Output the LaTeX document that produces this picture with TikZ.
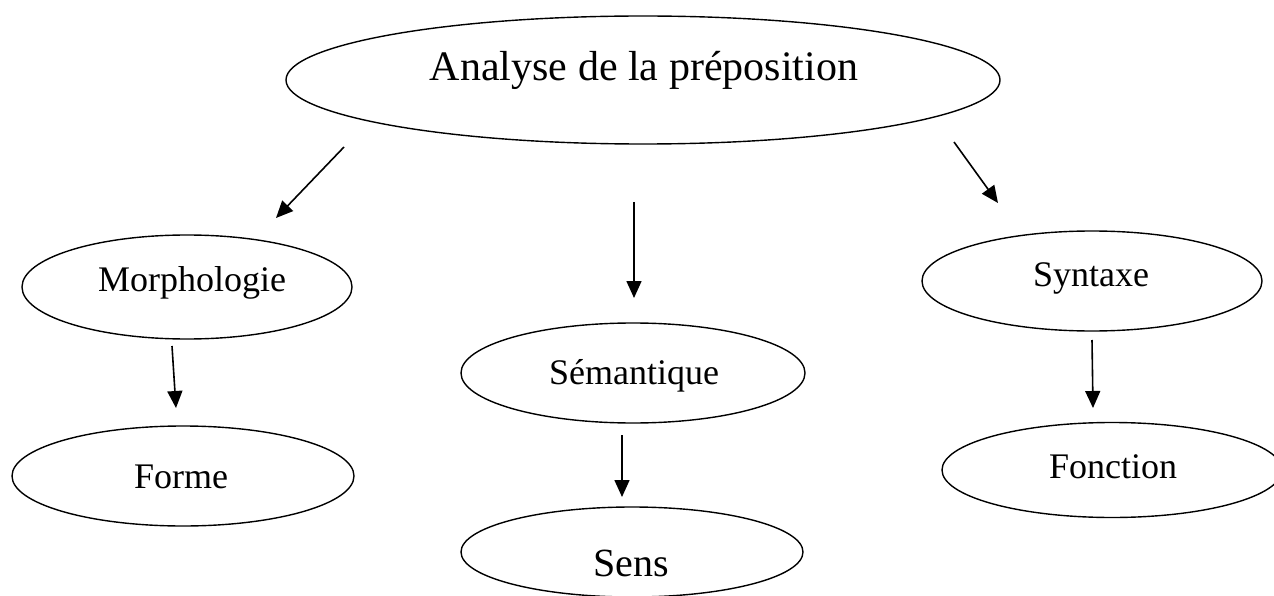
\documentclass[tikz,border=0pt]{standalone}
\usepackage{fontspec}
\setmainfont{Liberation Serif}
\usetikzlibrary{shapes.geometric,arrows.meta}
\tikzset{
  oval/.style={draw=black, line width=1.4pt, ellipse, inner sep=0pt, outer sep=0pt},
  lbl/.style={anchor=base, inner sep=0pt, font=\fontsize{36}{40}\selectfont},
  biglbl/.style={anchor=base, inner sep=0pt, font=\fontsize{42}{46}\selectfont},
  arr/.style={line width=1.6pt, -{Triangle[length=17pt,width=15pt]}}
}
\begin{document}
\begin{tikzpicture}[x=1pt,y=-1pt]
\useasboundingbox (0,0) rectangle (1274,596);
% ellipses
\node[oval, minimum width=714pt, minimum height=128pt] (top) at (643,80) {};
\node[oval, minimum width=330pt, minimum height=104pt] (morph) at (187,287) {};
\node[oval, minimum width=342pt, minimum height=100pt] (forme) at (183,476) {};
\node[oval, minimum width=344pt, minimum height=100pt] (sem) at (633,373) {};
\node[oval, minimum width=342pt, minimum height=90pt] (sens) at (632,552) {};
\node[oval, minimum width=340pt, minimum height=100pt] (synt) at (1092,281) {};
\node[oval, minimum width=340pt, minimum height=95pt] (fonc) at (1112,470) {};
% texts
\node[biglbl] (topt) at (644,81) {Analyse de la préposition};
\node[lbl] (morpht) at (192,291) {Morphologie};
\node[lbl] (formet) at (181,488) {Forme};
\node[lbl] (semt) at (634,384) {Sémantique};
\node[lbl, font=\fontsize{40}{44}\selectfont] (senst) at (631,576) {Sens};
\node[lbl] (syntt) at (1091,286) {Syntaxe};
\node[lbl] (fonct) at (1113,478) {Fonction};
% arrow ends
\coordinate (a1s) at (344,147); \coordinate (a1e) at (276,218);
\coordinate (a2s) at (954,142); \coordinate (a2e) at (998,203);
\coordinate (a3s) at (634,202); \coordinate (a3e) at (634,298);
\coordinate (a4s) at (172,346); \coordinate (a4e) at (176,408);
\coordinate (a5s) at (622,435); \coordinate (a5e) at (622,497);
\coordinate (a6s) at (1092,340); \coordinate (a6e) at (1093,408);
\draw[arr] (a1s) -- (a1e);
\draw[arr] (a2s) -- (a2e);
\draw[arr] (a3s) -- (a3e);
\draw[arr] (a4s) -- (a4e);
\draw[arr] (a5s) -- (a5e);
\draw[arr] (a6s) -- (a6e);
\end{tikzpicture}
\end{document}
